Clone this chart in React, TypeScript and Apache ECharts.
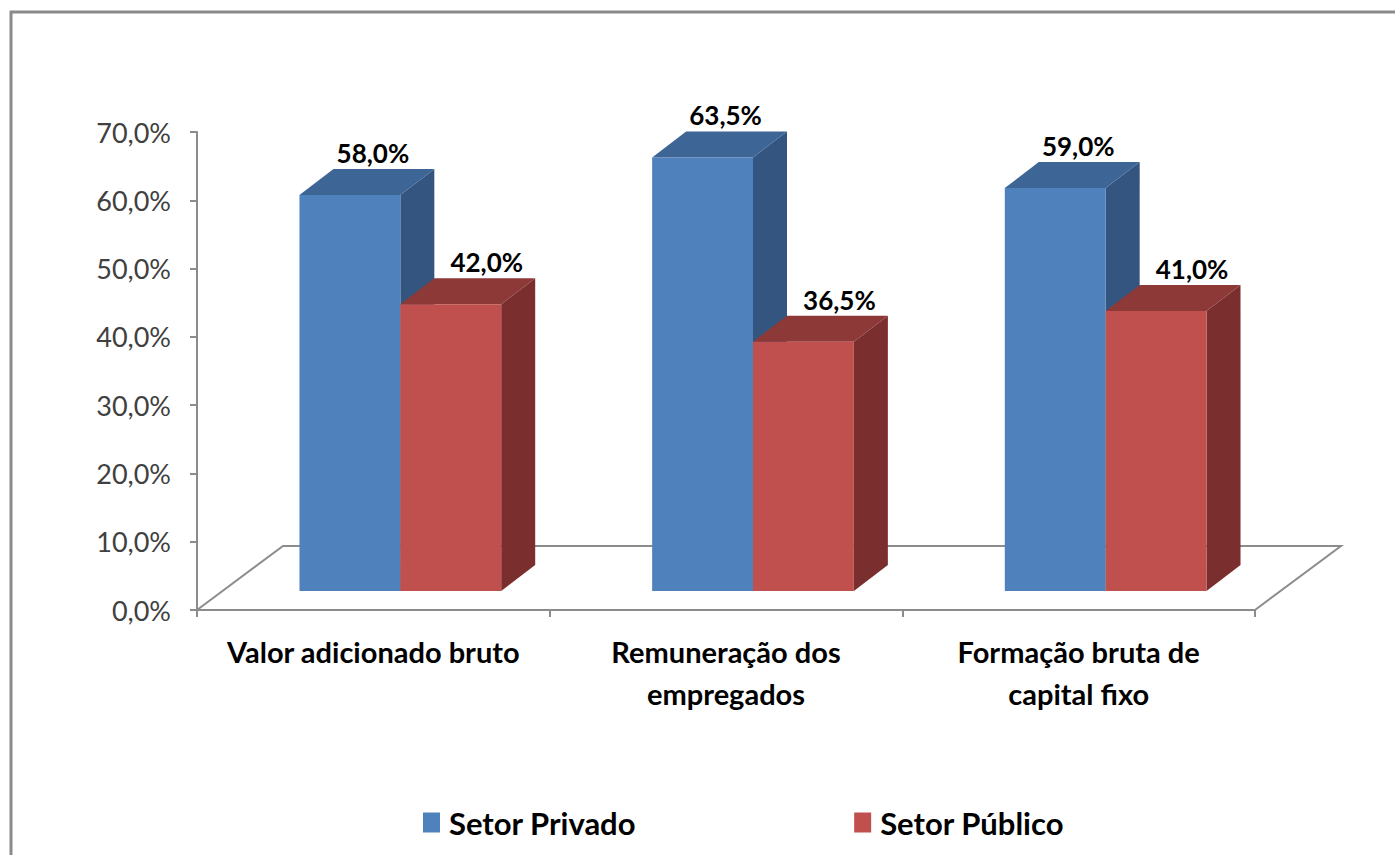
import React, { useEffect, useRef } from "react";
import * as echarts from "echarts";

const categories = [
  "Valor adicionado bruto",
  "Remuneração dos\nempregados",
  "Formação bruta de\ncapital fixo",
];
const seriesNames = ["Setor Privado", "Setor Público"];
const privado = [58.0, 63.5, 59.0];
const publico = [42.0, 36.5, 41.0];
const yMin = 0;
const yMax = 70;
const yInterval = 10;

const FONT = "Lato, 'Noto Sans', sans-serif";

const faceColors = [
  { front: "#4F81BD", top: "#3D6596", side: "#33557F" },
  { front: "#C0504D", top: "#8D3937", side: "#7A2E2D" },
];

const fmt = (v: number) => v.toFixed(1).replace(".", ",") + "%";

// 3D styling constants (pixels)
const FLOOR_DX = 86;
const FLOOR_DY = -64;
const FRONT_SHIFT_X = 27;
const FRONT_SHIFT_Y = -19;
const BAR_DX = 34;
const BAR_DY = -26;
const BAR_FRAC = 0.286;
const LABEL_DX = [23, 36];

function makeBarRender(j: number) {
  return (params: any, api: any) => {
    const idx = api.value(0);
    const val = api.value(1);
    const base = api.coord([idx, 0]);
    const top = api.coord([idx, val]);
    const catW = api.size([1, 0])[0];
    const bw = catW * BAR_FRAC;
    const x0 = base[0] + FRONT_SHIFT_X - bw + j * bw;
    const x1 = x0 + bw;
    const yb = base[1] + FRONT_SHIFT_Y;
    const yt = top[1] + FRONT_SHIFT_Y;
    const c = faceColors[j];
    return {
      type: "group",
      children: [
        {
          type: "polygon",
          shape: {
            points: [
              [x1, yt],
              [x1 + BAR_DX, yt + BAR_DY],
              [x1 + BAR_DX, yb + BAR_DY],
              [x1, yb],
            ],
          },
          style: { fill: c.side },
        },
        {
          type: "polygon",
          shape: {
            points: [
              [x0, yt],
              [x1, yt],
              [x1 + BAR_DX, yt + BAR_DY],
              [x0 + BAR_DX, yt + BAR_DY],
            ],
          },
          style: { fill: c.top },
        },
        {
          type: "rect",
          shape: { x: x0, y: yt, width: bw, height: yb - yt },
          style: { fill: c.front },
        },
        {
          type: "text",
          x: (x0 + x1) / 2 + LABEL_DX[j],
          y: yt + BAR_DY - 3,
          style: {
            text: fmt(val),
            fill: "#000",
            font: `bold 26px ${FONT}`,
            align: "center",
            verticalAlign: "bottom",
          },
        },
      ],
    };
  };
}

function floorRender(params: any, api: any) {
  const cs = params.coordSys;
  const x = cs.x;
  const y = cs.y + cs.height;
  const w = cs.width;
  return {
    type: "polyline",
    shape: {
      points: [
        [x, y],
        [x + FLOOR_DX, y + FLOOR_DY],
        [x + w + FLOOR_DX, y + FLOOR_DY],
        [x + w, y],
      ],
    },
    style: { stroke: "#8C8C8C", lineWidth: 2, fill: "none" },
    silent: true,
  };
}

export default function App() {
  const ref = useRef<HTMLDivElement>(null);
  useEffect(() => {
    if (!ref.current) return;
    const chart = echarts.init(ref.current, undefined, { renderer: "svg" });
    chart.setOption({
      animation: false,
      backgroundColor: "#ffffff",
      grid: { left: 197, top: 132, width: 1058, height: 478, containLabel: false },
      legend: {
        data: seriesNames,
        left: 418,
        top: 802,
        icon: "rect",
        itemWidth: 17,
        itemHeight: 20,
        itemGap: 218,
        textStyle: {
          fontFamily: FONT,
          fontWeight: "bold",
          fontSize: 31,
          color: "#000",
          padding: [0, 0, 0, 4],
        },
      },
      xAxis: {
        type: "category",
        data: categories,
        axisLine: { show: true, lineStyle: { color: "#8C8C8C", width: 2 } },
        axisTick: { show: true, length: 7, lineStyle: { color: "#8C8C8C", width: 2 } },
        axisLabel: {
          fontFamily: FONT,
          fontWeight: "bold",
          fontSize: 29,
          lineHeight: 42,
          color: "#000",
          margin: 20,
          interval: 0,
        },
        splitLine: { show: false },
      },
      yAxis: {
        type: "value",
        min: yMin,
        max: yMax,
        interval: yInterval,
        axisLine: { show: true, lineStyle: { color: "#8C8C8C", width: 2 } },
        axisTick: { show: true, length: 7, lineStyle: { color: "#8C8C8C", width: 2 } },
        axisLabel: {
          fontFamily: FONT,
          fontSize: 27,
          color: "#404040",
          margin: 26,
          formatter: (v: number) => fmt(v),
        },
        splitLine: { show: false },
      },
      graphic: [
        {
          type: "line",
          shape: { x1: 10, y1: 12, x2: 1395, y2: 12 },
          style: { stroke: "#8A8A8A", lineWidth: 3 },
        },
        {
          type: "line",
          shape: { x1: 11, y1: 11, x2: 11, y2: 855 },
          style: { stroke: "#8A8A8A", lineWidth: 3 },
        },
      ],
      series: [
        {
          name: "floor",
          type: "custom",
          renderItem: floorRender,
          data: [[0, 0]],
          z: 1,
          silent: true,
          tooltip: { show: false },
        },
        {
          name: seriesNames[0],
          type: "custom",
          renderItem: makeBarRender(0),
          itemStyle: { color: faceColors[0].front },
          data: privado.map((v, i) => [i, v]),
          z: 2,
        },
        {
          name: seriesNames[1],
          type: "custom",
          renderItem: makeBarRender(1),
          itemStyle: { color: faceColors[1].front },
          data: publico.map((v, i) => [i, v]),
          z: 3,
        },
      ],
    });
    return () => chart.dispose();
  }, []);
  return (
    <div
      ref={ref}
      style={{ position: "fixed", left: 0, top: 0, width: 1395, height: 855, background: "#fff" }}
    />
  );
}
